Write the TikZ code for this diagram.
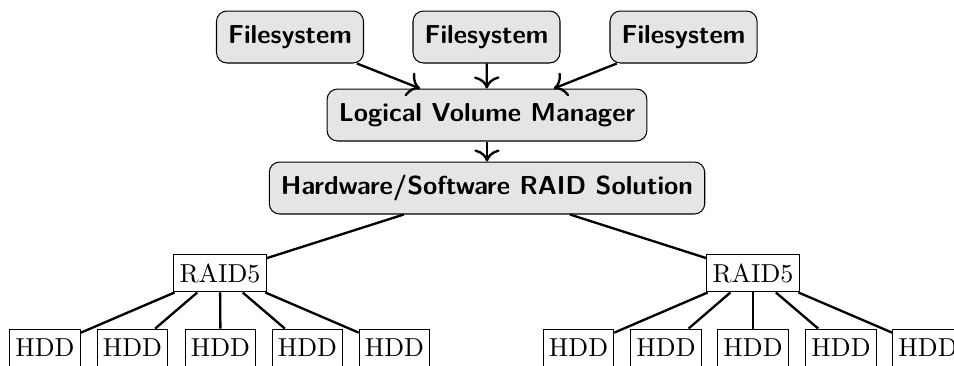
\documentclass[tikz,border=0pt]{standalone}
\usetikzlibrary{arrows.meta}
\begin{document}
\begin{tikzpicture}[x=0.385pt, y=-0.385pt,
  layer/.style={draw, fill=black!10, rounded corners=4pt, font=\sffamily\bfseries,
    inner xsep=4.5pt, inner ysep=3pt, minimum height=20pt},
  plain/.style={draw, fill=white, inner xsep=2.2pt, inner ysep=2pt, minimum height=14.6pt},
  link/.style={line width=0.9pt},
  flow/.style={line width=0.9pt, -{To[scale=1.3]}}]
\useasboundingbox (0,0) rectangle (954,365);
\clip (0,0) rectangle (954,365);

% filesystems
\node[layer] (fs1) at (290,37) {Filesystem};
\node[layer] (fs2) at (486.5,37) {Filesystem};
\node[layer] (fs3) at (683.5,37) {Filesystem};

% volume management and RAID layer
\node[layer] (lvm) at (487,115) {Logical Volume Manager};
\node[layer] (raid) at (487,188) {Hardware/Software RAID Solution};

% arrays
\node[plain] (ra) at (220,273) {RAID5};
\node[plain] (rb) at (753,273) {RAID5};

% disks
\foreach \i/\x in {1/45,2/132.5,3/220.5,4/307.5,5/394.5}
  \node[plain] (da\i) at (\x,348) {HDD};
\foreach \i/\x in {1/578.5,2/666,3/753,4/841,5/928}
  \node[plain] (db\i) at (\x,348) {HDD};

% connectors
\draw[flow] (fs1) -- (lvm);
\draw[flow] (fs2) -- (lvm);
\draw[flow] (fs3) -- (lvm);
\draw[flow] (lvm) -- (raid);
\draw[link] (raid) -- (ra);
\draw[link] (raid) -- (rb);
\foreach \i in {1,...,5} {
  \draw[link] (ra) -- (da\i);
  \draw[link] (rb) -- (db\i);
}
\end{tikzpicture}
\end{document}
